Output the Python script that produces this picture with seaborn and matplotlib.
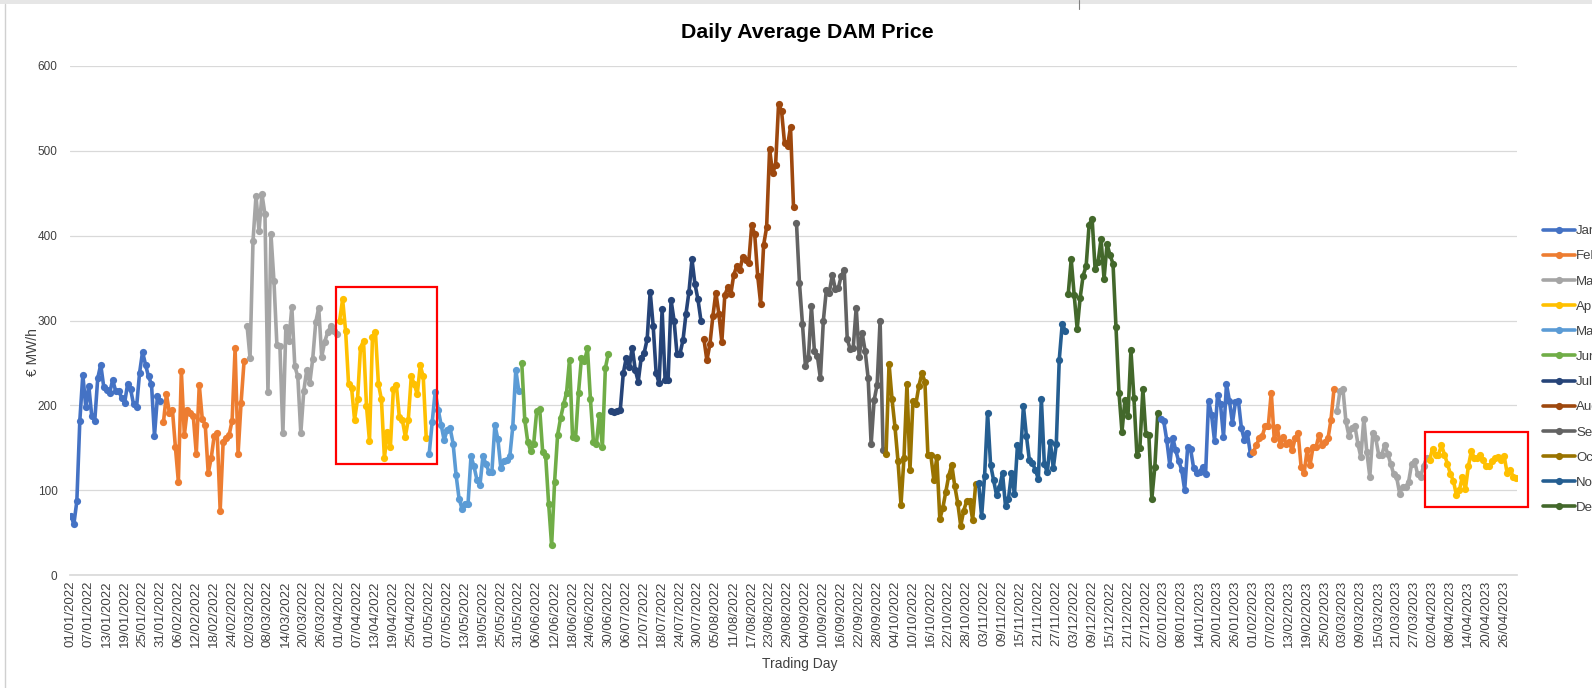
import matplotlib
matplotlib.use("Agg")
import matplotlib.pyplot as plt
import matplotlib.font_manager as fm
from matplotlib.lines import Line2D
from matplotlib.patches import Rectangle
import seaborn as sns
import pandas as pd

# Daily average DAM price (€/MWh), one list per calendar month
jan_2022 = [70, 60, 87, 182, 236, 198, 223, 187, 182, 232,
            248, 222, 218, 215, 230, 217, 217, 209, 203, 225,
            219, 201, 198, 238, 263, 248, 234, 225, 164, 211,
            205]
feb_2022 = [180, 213, 191, 195, 151, 110, 240, 165, 195, 191,
            187, 143, 224, 184, 177, 120, 138, 164, 167, 76,
            157, 162, 165, 182, 267, 143, 203, 252]
mar_2022 = [294, 256, 394, 447, 405, 449, 425, 216, 402, 347,
            271, 270, 167, 292, 276, 316, 246, 234, 167, 217,
            242, 226, 255, 298, 315, 257, 275, 286, 293, 288,
            284]
apr_2022 = [300, 325, 288, 225, 221, 183, 207, 268, 276, 199,
            158, 281, 286, 225, 207, 138, 169, 151, 219, 224,
            186, 183, 163, 183, 234, 225, 213, 247, 234, 162]
may_2022 = [143, 180, 216, 195, 177, 159, 171, 173, 155, 118,
            90, 78, 84, 84, 140, 128, 112, 106, 140, 131,
            122, 122, 177, 160, 126, 134, 135, 140, 175, 242,
            217]
jun_2022 = [250, 183, 157, 146, 155, 193, 196, 145, 140, 84,
            35, 110, 165, 185, 201, 215, 254, 163, 161, 215,
            256, 252, 267, 207, 157, 155, 189, 151, 244, 261]
jul_2022 = [193, 192, 193, 195, 238, 256, 245, 268, 242, 228,
            256, 262, 278, 334, 294, 238, 226, 313, 230, 230,
            324, 300, 260, 261, 277, 308, 334, 372, 343, 325,
            300]
aug_2022 = [278, 253, 272, 305, 333, 308, 275, 330, 339, 331,
            354, 364, 359, 375, 371, 368, 412, 402, 353, 320,
            389, 410, 502, 474, 483, 555, 547, 509, 506, 528,
            434]
sep_2022 = [415, 344, 296, 246, 256, 317, 264, 258, 232, 300,
            336, 333, 354, 337, 338, 353, 359, 278, 266, 268,
            315, 257, 285, 264, 232, 154, 206, 224, 300, 147]
oct_2022 = [143, 249, 207, 174, 134, 83, 138, 225, 124, 205,
            202, 223, 238, 228, 142, 141, 112, 139, 66, 79,
            98, 117, 130, 105, 85, 58, 76, 87, 87, 65,
            107]
nov_2022 = [108, 69, 117, 191, 130, 112, 94, 104, 120, 81,
            90, 120, 95, 153, 140, 199, 164, 135, 132, 124,
            113, 208, 131, 121, 157, 126, 154, 254, 296, 288]
dec_2022 = [331, 372, 330, 290, 327, 353, 364, 413, 420, 361,
            369, 396, 349, 390, 377, 367, 292, 215, 169, 206,
            187, 265, 209, 142, 150, 219, 166, 165, 90, 127,
            191]
jan_2023 = [184, 181, 159, 130, 162, 147, 134, 124, 100, 151,
            148, 126, 120, 122, 127, 119, 205, 189, 158, 212,
            201, 163, 225, 205, 179, 204, 205, 173, 159, 167,
            143]
feb_2023 = [145, 153, 161, 164, 176, 176, 215, 160, 174, 153,
            163, 155, 157, 147, 161, 167, 127, 120, 147, 130,
            151, 151, 165, 153, 157, 161, 183, 219]
mar_2023 = [193, 217, 219, 181, 164, 173, 176, 155, 139, 184,
            145, 116, 167, 161, 141, 142, 153, 143, 131, 119,
            115, 96, 104, 104, 110, 131, 134, 119, 116, 128,
            138]
apr_2023 = [135, 149, 141, 142, 153, 142, 131, 119, 111, 94,
            100, 116, 101, 128, 146, 138, 138, 142, 135, 128,
            128, 134, 138, 139, 136, 140, 120, 124, 116, 114]

month_names = ["Jan", "Feb", "Mar", "Apr", "May", "Jun",
               "Jul", "Aug", "Sep", "Oct", "Nov", "Dec"]
# Excel default series colours
month_colors = ["#4472C4", "#ED7D31", "#A5A5A5", "#FFC000", "#5B9BD5", "#70AD47",
                "#264478", "#9E480E", "#636363", "#997300", "#255E91", "#43682B"]

segments = [
    ("2022-01-01", jan_2022), ("2022-02-01", feb_2022), ("2022-03-01", mar_2022),
    ("2022-04-01", apr_2022), ("2022-05-01", may_2022), ("2022-06-01", jun_2022),
    ("2022-07-01", jul_2022), ("2022-08-01", aug_2022), ("2022-09-01", sep_2022),
    ("2022-10-01", oct_2022), ("2022-11-01", nov_2022), ("2022-12-01", dec_2022),
    ("2023-01-01", jan_2023), ("2023-02-01", feb_2023), ("2023-03-01", mar_2023),
    ("2023-04-01", apr_2023),
]

# red boxes drawn on the chart (start, end, low, high)
highlights = [("2022-03-30 19:00", "2022-05-03 17:00", 131, 339),
              ("2023-03-30 14:00", "2023-05-04 03:00", 80, 168)]

# build long table
rows = []
for seg_id, (start, vals) in enumerate(segments):
    dates = pd.date_range(start, periods=len(vals), freq="D")
    for d, v in zip(dates, vals):
        rows.append({"date": d, "price": v, "month": d.month - 1, "segment": seg_id})
df = pd.DataFrame(rows)

sns.set_theme(style="white")
available = {f.name for f in fm.fontManager.ttflist}
narrow = "Liberation Sans Narrow" if "Liberation Sans Narrow" in available else "Liberation Sans"
plt.rcParams["font.family"] = ["Liberation Sans", "DejaVu Sans"]

W, H = 1592, 688
LW, MS = 2.6, 5.2
fig = plt.figure(figsize=(W / 100, H / 100), dpi=100)
ax = fig.add_axes([70 / W, 1 - 575 / H, 1447 / W, 509 / H])

for seg_id, g in df.groupby("segment"):
    m = g["month"].iloc[0]
    sns.lineplot(data=g, x="date", y="price", ax=ax, color=month_colors[m],
                 estimator=None, errorbar=None, marker="o", markersize=MS,
                 markeredgewidth=0, linewidth=LW, legend=False)

for x0, x1, lo, hi in highlights:
    x0n = matplotlib.dates.date2num(pd.Timestamp(x0))
    x1n = matplotlib.dates.date2num(pd.Timestamp(x1))
    ax.add_patch(Rectangle((x0n, lo), x1n - x0n, hi - lo, fill=False,
                           edgecolor="#FF0000", linewidth=1.6, clip_on=False, zorder=5))

first, last = df["date"].min(), df["date"].max()
ax.set_xlim(first - pd.Timedelta(hours=7), last + pd.Timedelta(hours=7))
ax.set_ylim(0, 600)

xt = pd.date_range(first, last, freq="6D")
ax.set_xticks(xt)
ax.set_xticklabels([d.strftime("%d/%m/%Y") for d in xt], rotation=90,
                   fontsize=9.5, color="#404040")
ax.set_yticks(range(0, 601, 100))
ax.set_yticklabels([str(v) for v in range(0, 601, 100)], fontsize=8.5, color="#404040")
ax.tick_params(axis="x", length=0, pad=4)
ax.tick_params(axis="y", length=0, pad=9)

ax.yaxis.grid(True, color="#D9D9D9", linewidth=0.9)
ax.set_axisbelow(True)
for side in ["top", "right", "left"]:
    ax.spines[side].set_visible(False)
ax.spines["bottom"].set_color("#D9D9D9")

ax.set_xlabel("Trading Day", fontsize=10, color="#404040")
ax.set_ylabel("€ MW/h", fontsize=10, color="#404040")
ax.xaxis.set_label_coords(0.504, -0.162)
ax.yaxis.set_label_coords(-0.021, 0.438)

fig.text(807 / W, 1 - 32 / H, "Daily Average DAM Price", ha="center", va="center",
         fontsize=18.5 if narrow != "Liberation Sans" else 15.4,
         fontweight="bold", family=[narrow, "DejaVu Sans"], color="#000000")

# legend cut by the right edge, as in the screenshot
handles = [Line2D([0], [0], color=c, linewidth=LW, marker="o", markersize=MS,
                  markeredgewidth=0) for c in month_colors]
fig.legend(handles, month_names, loc="upper left", bbox_to_anchor=(1543 / W, 1 - 225 / H),
           frameon=False, borderpad=0, borderaxespad=0, handlelength=2.4,
           handletextpad=0.1, labelspacing=0.98, fontsize=9.5, labelcolor="#404040")

# screenshot frame
fig.add_artist(Rectangle((0, 1 - 4 / H), 1, 4 / H, transform=fig.transFigure,
                         facecolor="#E6E6E6", edgecolor="none"))
fig.add_artist(Line2D([5 / W, 5 / W], [0, 1 - 4 / H], transform=fig.transFigure,
                      color="#D0D0D0", linewidth=1))
fig.add_artist(Line2D([1079 / W, 1079 / W], [1 - 9 / H, 1], transform=fig.transFigure,
                      color="#808080", linewidth=0.8))

fig.savefig("out.png", dpi=100)
